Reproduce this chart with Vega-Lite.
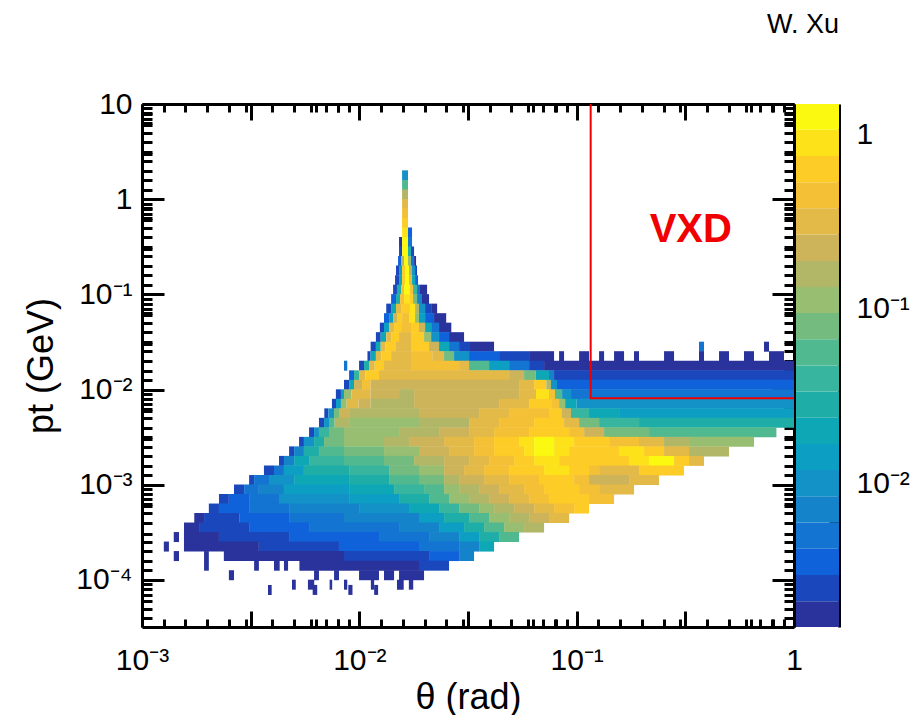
{"$schema":"https://vega.github.io/schema/vega-lite/v6.json","background":"white","padding":{"left":23,"top":11,"right":5,"bottom":0},"spacing":2,"bounds":"flush","config":{"view":{"stroke":null},"axis":{"grid":false,"labelFont":"Liberation Sans","titleFont":"Liberation Sans","labelFontSize":28,"titleFontSize":36,"titleFontWeight":"normal","labelColor":"black","titleColor":"black","domainColor":"black","tickColor":"black","domainWidth":3,"tickWidth":3,"labelOverlap":false,"labelBound":false,"labelFlush":false,"zindex":1}},
"hconcat":[{"width":652,"height":523,"layer":[
{"data":{"values":[
{"pt":1.78,"a":0.01573,"b":0.01675,"n":0.01},{"pt":1.41,"a":0.01573,"b":0.01675,"n":0.0562},{"pt":1.12,"a":0.01573,"b":0.01675,"n":0.158},{"pt":0.891,"a":0.01573,"b":0.01675,"n":0.316},{"pt":0.708,"a":0.01573,"b":0.01675,"n":0.447},{"pt":0.562,"a":0.01573,"b":0.01675,"n":0.631},
{"pt":0.447,"a":0.01573,"b":0.01675,"n":0.891},{"pt":0.447,"a":0.01675,"b":0.01748,"n":0.00355},
{"pt":0.355,"a":0.01523,"b":0.01573,"n":0.00178},{"pt":0.355,"a":0.01573,"b":0.01675,"n":1.26},{"pt":0.355,"a":0.01675,"b":0.01748,"n":0.00501},
{"pt":0.282,"a":0.01523,"b":0.01573,"n":0.00251},{"pt":0.282,"a":0.01573,"b":0.01675,"n":1.26},{"pt":0.282,"a":0.01675,"b":0.01729,"n":0.0282},{"pt":0.282,"a":0.01729,"b":0.01786,"n":0.00251},
{"pt":0.224,"a":0.01507,"b":0.01556,"n":0.00355},{"pt":0.224,"a":0.01556,"b":0.01606,"n":0.158},{"pt":0.224,"a":0.01606,"b":0.01675,"n":1.26},{"pt":0.224,"a":0.01675,"b":0.01729,"n":0.112},{"pt":0.224,"a":0.01729,"b":0.01786,"n":0.00501},{"pt":0.224,"a":0.01786,"b":0.01824,"n":0.00178},
{"pt":0.178,"a":0.01475,"b":0.01523,"n":0.00251},{"pt":0.178,"a":0.01523,"b":0.01573,"n":0.0141},{"pt":0.178,"a":0.01573,"b":0.01623,"n":0.631},{"pt":0.178,"a":0.01623,"b":0.01693,"n":1.26},{"pt":0.178,"a":0.01693,"b":0.01748,"n":0.158},{"pt":0.178,"a":0.01748,"b":0.01805,"n":0.01},{"pt":0.178,"a":0.01805,"b":0.01843,"n":0.00251},
{"pt":0.141,"a":0.0146,"b":0.01523,"n":0.00251},{"pt":0.141,"a":0.01523,"b":0.01573,"n":0.02},{"pt":0.141,"a":0.01573,"b":0.01623,"n":0.631},{"pt":0.141,"a":0.01623,"b":0.01693,"n":1.26},{"pt":0.141,"a":0.01693,"b":0.01748,"n":0.316},{"pt":0.141,"a":0.01748,"b":0.01805,"n":0.02},{"pt":0.141,"a":0.01805,"b":0.01863,"n":0.00355},
{"pt":0.112,"a":0.0143,"b":0.0149,"n":0.00251},{"pt":0.112,"a":0.0149,"b":0.01556,"n":0.0282},{"pt":0.112,"a":0.01556,"b":0.01606,"n":0.447},{"pt":0.112,"a":0.01606,"b":0.01711,"n":1.26},{"pt":0.112,"a":0.01711,"b":0.01767,"n":0.447},{"pt":0.112,"a":0.01767,"b":0.01843,"n":0.0398},{"pt":0.112,"a":0.01843,"b":0.01902,"n":0.00501},{"pt":0.112,"a":0.01902,"b":0.0205,"n":0.00178},
{"pt":0.0891,"a":0.014,"b":0.01475,"n":0.00355},{"pt":0.0891,"a":0.01475,"b":0.0154,"n":0.0282},{"pt":0.0891,"a":0.0154,"b":0.01606,"n":0.447},{"pt":0.0891,"a":0.01606,"b":0.01711,"n":0.891},{"pt":0.0891,"a":0.01711,"b":0.01767,"n":0.631},{"pt":0.0891,"a":0.01767,"b":0.01843,"n":0.0794},{"pt":0.0891,"a":0.01843,"b":0.01942,"n":0.00708},{"pt":0.0891,"a":0.01942,"b":0.02093,"n":0.00178},
{"pt":0.0708,"a":0.0133,"b":0.014,"n":0.00251},{"pt":0.0708,"a":0.014,"b":0.01475,"n":0.02},{"pt":0.0708,"a":0.01475,"b":0.01556,"n":0.316},{"pt":0.0708,"a":0.01556,"b":0.01711,"n":0.631},{"pt":0.0708,"a":0.01711,"b":0.01805,"n":0.891},{"pt":0.0708,"a":0.01805,"b":0.01882,"n":0.158},{"pt":0.0708,"a":0.01882,"b":0.02007,"n":0.01},{"pt":0.0708,"a":0.02007,"b":0.0214,"n":0.00251},{"pt":0.0708,"a":0.0214,"b":0.0228,"n":0.00178},
{"pt":0.0562,"a":0.01299,"b":0.0137,"n":0.00355},{"pt":0.0562,"a":0.0137,"b":0.0143,"n":0.0141},{"pt":0.0562,"a":0.0143,"b":0.0149,"n":0.224},{"pt":0.0562,"a":0.0149,"b":0.01573,"n":0.631},{"pt":0.0562,"a":0.01573,"b":0.01693,"n":0.447},{"pt":0.0562,"a":0.01693,"b":0.01805,"n":0.891},{"pt":0.0562,"a":0.01805,"b":0.01882,"n":0.112},{"pt":0.0562,"a":0.01882,"b":0.02007,"n":0.0141},{"pt":0.0562,"a":0.02007,"b":0.02207,"n":0.00355},{"pt":0.0562,"a":0.02207,"b":0.0251,"n":0.00178},
{"pt":0.0447,"a":0.01243,"b":0.01299,"n":0.00251},{"pt":0.0447,"a":0.01299,"b":0.0137,"n":0.0141},{"pt":0.0447,"a":0.0137,"b":0.01445,"n":0.316},{"pt":0.0447,"a":0.01445,"b":0.01556,"n":0.631},{"pt":0.0447,"a":0.01556,"b":0.01729,"n":0.447},{"pt":0.0447,"a":0.01729,"b":0.01882,"n":0.631},{"pt":0.0447,"a":0.01882,"b":0.02007,"n":0.224},{"pt":0.0447,"a":0.02007,"b":0.0214,"n":0.02},{"pt":0.0447,"a":0.0214,"b":0.02327,"n":0.00501},{"pt":0.0447,"a":0.02327,"b":0.0265,"n":0.00178},
{"pt":0.0355,"a":0.01192,"b":0.01254,"n":0.00251},{"pt":0.0355,"a":0.01254,"b":0.0133,"n":0.02},{"pt":0.0355,"a":0.0133,"b":0.014,"n":0.316},{"pt":0.0355,"a":0.014,"b":0.01523,"n":0.631},{"pt":0.0355,"a":0.01523,"b":0.01729,"n":0.316},{"pt":0.0355,"a":0.01729,"b":0.01985,"n":0.631},{"pt":0.0355,"a":0.01985,"b":0.0214,"n":0.112},{"pt":0.0355,"a":0.0214,"b":0.02327,"n":0.01},{"pt":0.0355,"a":0.02327,"b":0.02587,"n":0.00355},{"pt":0.0355,"a":0.02587,"b":0.03033,"n":0.00178},
{"pt":0.0282,"a":0.01127,"b":0.01192,"n":0.00251},{"pt":0.0282,"a":0.01192,"b":0.01254,"n":0.02},{"pt":0.0282,"a":0.01254,"b":0.0132,"n":0.316},{"pt":0.0282,"a":0.0132,"b":0.01475,"n":0.631},{"pt":0.0282,"a":0.01475,"b":0.01729,"n":0.316},{"pt":0.0282,"a":0.01729,"b":0.02093,"n":0.631},{"pt":0.0282,"a":0.02093,"b":0.02327,"n":0.224},{"pt":0.0282,"a":0.02327,"b":0.02587,"n":0.02},{"pt":0.0282,"a":0.02587,"b":0.02877,"n":0.00501},{"pt":0.0282,"a":0.02877,"b":0.03198,"n":0.00251},{"pt":0.0282,"a":0.03198,"b":0.04168,"n":0.00178},{"pt":0.0282,"a":0.3656,"b":0.3855,"n":0.00501},{"pt":0.0282,"a":0.7278,"b":0.7674,"n":0.00178},
{"pt":0.0224,"a":0.0109,"b":0.01127,"n":0.00251},{"pt":0.0224,"a":0.01127,"b":0.01192,"n":0.02},{"pt":0.0224,"a":0.01192,"b":0.01266,"n":0.316},{"pt":0.0224,"a":0.01266,"b":0.014,"n":0.631},{"pt":0.0224,"a":0.014,"b":0.01729,"n":0.316},{"pt":0.0224,"a":0.01729,"b":0.02164,"n":0.447},{"pt":0.0224,"a":0.02164,"b":0.02454,"n":0.316},{"pt":0.0224,"a":0.02454,"b":0.02728,"n":0.0794},{"pt":0.0224,"a":0.02728,"b":0.03198,"n":0.01},{"pt":0.0224,"a":0.03198,"b":0.04395,"n":0.00355},{"pt":0.0224,"a":0.04395,"b":0.0604,"n":0.00251},{"pt":0.0224,"a":0.0604,"b":0.0787,"n":0.00178},{"pt":0.0224,"a":0.083,"b":0.0875,"n":0.00178},{"pt":0.0224,"a":0.1026,"b":0.114,"n":0.00178},{"pt":0.0224,"a":0.1268,"b":0.1337,"n":0.00178},{"pt":0.0224,"a":0.1486,"b":0.1652,"n":0.00178},{"pt":0.0224,"a":0.1836,"b":0.1936,"n":0.00178},{"pt":0.0224,"a":0.2524,"b":0.2806,"n":0.00178},{"pt":0.0224,"a":0.3656,"b":0.3855,"n":0.00178},{"pt":0.0224,"a":0.4519,"b":0.5024,"n":0.00178},{"pt":0.0224,"a":0.5889,"b":0.6547,"n":0.00178},{"pt":0.0224,"a":0.7674,"b":0.8996,"n":0.00178},
{"pt":0.0178,"a":0.00997,"b":0.01051,"n":0.00251},{"pt":0.0178,"a":0.01051,"b":0.01108,"n":0.0282},{"pt":0.0178,"a":0.01108,"b":0.01178,"n":0.316},{"pt":0.0178,"a":0.01178,"b":0.01299,"n":0.631},{"pt":0.0178,"a":0.01299,"b":0.01729,"n":0.316},{"pt":0.0178,"a":0.01729,"b":0.02877,"n":0.447},{"pt":0.0178,"a":0.02877,"b":0.03198,"n":0.316},{"pt":0.0178,"a":0.03198,"b":0.03953,"n":0.0562},{"pt":0.0178,"a":0.03953,"b":0.04887,"n":0.0141},{"pt":0.0178,"a":0.04887,"b":0.0604,"n":0.00501},{"pt":0.0178,"a":0.0604,"b":0.0708,"n":0.00251},{"pt":0.0178,"a":0.0708,"b":1,"n":0.00178},{"pt":0.0178,"a":0.0085,"b":0.0088,"n":0.00501},
{"pt":0.0141,"a":0.00897,"b":0.00945,"n":0.00355},{"pt":0.0141,"a":0.00945,"b":0.00997,"n":0.0398},{"pt":0.0141,"a":0.00997,"b":0.01068,"n":0.316},{"pt":0.0141,"a":0.01068,"b":0.01232,"n":0.631},{"pt":0.0141,"a":0.01232,"b":0.04887,"n":0.316},{"pt":0.0141,"a":0.04887,"b":0.05728,"n":0.224},{"pt":0.0141,"a":0.05728,"b":0.0648,"n":0.0794},{"pt":0.0141,"a":0.0648,"b":0.0746,"n":0.02},{"pt":0.0141,"a":0.0746,"b":0.0787,"n":0.00708},{"pt":0.0141,"a":0.0787,"b":1,"n":0.00251},
{"pt":0.0112,"a":0.0085,"b":0.00897,"n":0.00251},{"pt":0.0112,"a":0.00897,"b":0.00945,"n":0.02},{"pt":0.0112,"a":0.00945,"b":0.01029,"n":0.224},{"pt":0.0112,"a":0.01029,"b":0.01127,"n":0.447},{"pt":0.0112,"a":0.01127,"b":0.05432,"n":0.224},{"pt":0.0112,"a":0.05432,"b":0.0637,"n":0.316},{"pt":0.0112,"a":0.0637,"b":0.0725,"n":0.631},{"pt":0.0112,"a":0.0725,"b":0.0762,"n":0.158},{"pt":0.0112,"a":0.0762,"b":0.0812,"n":0.01},{"pt":0.0112,"a":0.0812,"b":1,"n":0.00355},
{"pt":0.00891,"a":0.0078,"b":0.00823,"n":0.00251},{"pt":0.00891,"a":0.00823,"b":0.0085,"n":0.0141},{"pt":0.00891,"a":0.0085,"b":0.00918,"n":0.112},{"pt":0.00891,"a":0.00918,"b":0.01127,"n":0.316},{"pt":0.00891,"a":0.01127,"b":0.01523,"n":0.224},{"pt":0.00891,"a":0.01523,"b":0.01786,"n":0.158},{"pt":0.00891,"a":0.01786,"b":0.05432,"n":0.224},{"pt":0.00891,"a":0.05432,"b":0.0650,"n":0.316},{"pt":0.00891,"a":0.0650,"b":0.0746,"n":0.891},{"pt":0.00891,"a":0.0746,"b":0.0795,"n":0.447},{"pt":0.00891,"a":0.0795,"b":0.0857,"n":0.0562},{"pt":0.00891,"a":0.0857,"b":0.0942,"n":0.01},{"pt":0.00891,"a":0.0942,"b":1,"n":0.00501},
{"pt":0.00708,"a":0.00748,"b":0.00781,"n":0.00251},{"pt":0.00708,"a":0.00781,"b":0.00823,"n":0.0141},{"pt":0.00708,"a":0.00823,"b":0.00875,"n":0.112},{"pt":0.00708,"a":0.00875,"b":0.0099,"n":0.316},{"pt":0.00708,"a":0.0099,"b":0.01127,"n":0.224},{"pt":0.00708,"a":0.01127,"b":0.01786,"n":0.158},{"pt":0.00708,"a":0.01786,"b":0.04395,"n":0.224},{"pt":0.00708,"a":0.04395,"b":0.0604,"n":0.316},{"pt":0.00708,"a":0.0604,"b":0.0763,"n":0.631},{"pt":0.00708,"a":0.0763,"b":0.083,"n":0.447},{"pt":0.00708,"a":0.083,"b":0.0885,"n":0.112},{"pt":0.00708,"a":0.0885,"b":0.1,"n":0.02},{"pt":0.00708,"a":0.1,"b":1,"n":0.01},
{"pt":0.00562,"a":0.0069,"b":0.0072,"n":0.00251},{"pt":0.00562,"a":0.0072,"b":0.00765,"n":0.01},{"pt":0.00562,"a":0.00765,"b":0.00806,"n":0.0794},{"pt":0.00562,"a":0.00806,"b":0.00897,"n":0.224},{"pt":0.00562,"a":0.00897,"b":0.01882,"n":0.158},{"pt":0.00562,"a":0.01882,"b":0.03556,"n":0.224},{"pt":0.00562,"a":0.03556,"b":0.04887,"n":0.316},{"pt":0.00562,"a":0.04887,"b":0.0746,"n":0.447},{"pt":0.00562,"a":0.0746,"b":0.085,"n":0.631},{"pt":0.00562,"a":0.085,"b":0.0942,"n":0.224},{"pt":0.00562,"a":0.0942,"b":0.114,"n":0.0398},{"pt":0.00562,"a":0.114,"b":0.1567,"n":0.02},{"pt":0.00562,"a":0.1567,"b":1,"n":0.0141},
{"pt":0.00447,"a":0.00652,"b":0.00688,"n":0.00251},{"pt":0.00447,"a":0.00688,"b":0.00725,"n":0.01},{"pt":0.00447,"a":0.00725,"b":0.0077,"n":0.0562},{"pt":0.00447,"a":0.0077,"b":0.00897,"n":0.158},{"pt":0.00447,"a":0.00897,"b":0.01882,"n":0.112},{"pt":0.00447,"a":0.01882,"b":0.03198,"n":0.158},{"pt":0.00447,"a":0.03198,"b":0.04395,"n":0.316},{"pt":0.00447,"a":0.04395,"b":0.0637,"n":0.447},{"pt":0.00447,"a":0.0637,"b":0.0875,"n":0.631},{"pt":0.00447,"a":0.0875,"b":0.1026,"n":0.316},{"pt":0.00447,"a":0.1026,"b":0.1268,"n":0.0794},{"pt":0.00447,"a":0.1268,"b":0.1936,"n":0.0398},{"pt":0.00447,"a":0.1936,"b":1,"n":0.0282},
{"pt":0.00355,"a":0.00587,"b":0.00619,"n":0.00251},{"pt":0.00355,"a":0.00619,"b":0.00652,"n":0.01},{"pt":0.00355,"a":0.00652,"b":0.00725,"n":0.0398},{"pt":0.00355,"a":0.00725,"b":0.0085,"n":0.0794},{"pt":0.00355,"a":0.0085,"b":0.01523,"n":0.112},{"pt":0.00355,"a":0.01523,"b":0.02327,"n":0.158},{"pt":0.00355,"a":0.02327,"b":0.03198,"n":0.224},{"pt":0.00355,"a":0.03198,"b":0.04168,"n":0.316},{"pt":0.00355,"a":0.04168,"b":0.0604,"n":0.447},{"pt":0.00355,"a":0.0604,"b":0.0923,"n":0.631},{"pt":0.00355,"a":0.0923,"b":0.1082,"n":0.447},{"pt":0.00355,"a":0.1082,"b":0.1337,"n":0.224},{"pt":0.00355,"a":0.1337,"b":0.2153,"n":0.0794},{"pt":0.00355,"a":0.2153,"b":0.83,"n":0.0562},
{"pt":0.00282,"a":0.00528,"b":0.00556,"n":0.00251},{"pt":0.00282,"a":0.00556,"b":0.00619,"n":0.01},{"pt":0.00282,"a":0.00619,"b":0.00688,"n":0.0282},{"pt":0.00282,"a":0.00688,"b":0.0085,"n":0.0794},{"pt":0.00282,"a":0.0085,"b":0.01299,"n":0.112},{"pt":0.00282,"a":0.01299,"b":0.01693,"n":0.158},{"pt":0.00282,"a":0.01693,"b":0.02454,"n":0.224},{"pt":0.00282,"a":0.02454,"b":0.03372,"n":0.316},{"pt":0.00282,"a":0.03372,"b":0.04168,"n":0.447},{"pt":0.00282,"a":0.04168,"b":0.05432,"n":0.631},{"pt":0.00282,"a":0.05432,"b":0.0637,"n":0.891},{"pt":0.00282,"a":0.0637,"b":0.0787,"n":1.26},{"pt":0.00282,"a":0.0787,"b":0.0973,"n":0.891},{"pt":0.00282,"a":0.0973,"b":0.141,"n":0.631},{"pt":0.00282,"a":0.141,"b":0.1936,"n":0.447},{"pt":0.00282,"a":0.1936,"b":0.2524,"n":0.316},{"pt":0.00282,"a":0.2524,"b":0.3289,"n":0.158},{"pt":0.00282,"a":0.3289,"b":0.6547,"n":0.112},
{"pt":0.00224,"a":0.00475,"b":0.00501,"n":0.00251},{"pt":0.00224,"a":0.00501,"b":0.00556,"n":0.00708},{"pt":0.00224,"a":0.00556,"b":0.00652,"n":0.0282},{"pt":0.00224,"a":0.00652,"b":0.0085,"n":0.0562},{"pt":0.00224,"a":0.0085,"b":0.01299,"n":0.0794},{"pt":0.00224,"a":0.01299,"b":0.01882,"n":0.112},{"pt":0.00224,"a":0.01882,"b":0.02587,"n":0.224},{"pt":0.00224,"a":0.02587,"b":0.03372,"n":0.316},{"pt":0.00224,"a":0.03372,"b":0.04168,"n":0.447},{"pt":0.00224,"a":0.04168,"b":0.05728,"n":0.631},{"pt":0.00224,"a":0.05728,"b":0.0637,"n":0.891},{"pt":0.00224,"a":0.0637,"b":0.0787,"n":1.26},{"pt":0.00224,"a":0.0787,"b":0.0923,"n":0.891},{"pt":0.00224,"a":0.0923,"b":0.1567,"n":0.631},{"pt":0.00224,"a":0.1567,"b":0.2042,"n":0.891},{"pt":0.00224,"a":0.2042,"b":0.2524,"n":0.631},{"pt":0.00224,"a":0.2524,"b":0.3289,"n":0.316},{"pt":0.00224,"a":0.3289,"b":0.5024,"n":0.158},
{"pt":0.00178,"a":0.00427,"b":0.0045,"n":0.00251},{"pt":0.00178,"a":0.0045,"b":0.00501,"n":0.00708},{"pt":0.00178,"a":0.00501,"b":0.00587,"n":0.02},{"pt":0.00178,"a":0.00587,"b":0.0085,"n":0.0398},{"pt":0.00178,"a":0.0085,"b":0.01299,"n":0.0562},{"pt":0.00178,"a":0.01299,"b":0.01786,"n":0.0794},{"pt":0.00178,"a":0.01786,"b":0.02454,"n":0.158},{"pt":0.00178,"a":0.02454,"b":0.03198,"n":0.224},{"pt":0.00178,"a":0.03198,"b":0.03953,"n":0.316},{"pt":0.00178,"a":0.03953,"b":0.05152,"n":0.447},{"pt":0.00178,"a":0.05152,"b":0.0637,"n":0.631},{"pt":0.00178,"a":0.0637,"b":0.083,"n":0.891},{"pt":0.00178,"a":0.083,"b":0.1742,"n":0.631},{"pt":0.00178,"a":0.1742,"b":0.2153,"n":0.891},{"pt":0.00178,"a":0.2153,"b":0.2806,"n":1.26},{"pt":0.00178,"a":0.2806,"b":0.3289,"n":0.631},{"pt":0.00178,"a":0.3289,"b":0.3855,"n":0.316},
{"pt":0.00141,"a":0.00364,"b":0.00405,"n":0.00251},{"pt":0.00141,"a":0.00405,"b":0.0045,"n":0.00501},{"pt":0.00141,"a":0.0045,"b":0.00556,"n":0.0141},{"pt":0.00141,"a":0.00556,"b":0.00897,"n":0.0282},{"pt":0.00141,"a":0.00897,"b":0.0137,"n":0.0398},{"pt":0.00141,"a":0.0137,"b":0.01882,"n":0.0794},{"pt":0.00141,"a":0.01882,"b":0.02454,"n":0.112},{"pt":0.00141,"a":0.02454,"b":0.03033,"n":0.224},{"pt":0.00141,"a":0.03033,"b":0.03749,"n":0.316},{"pt":0.00141,"a":0.03749,"b":0.04887,"n":0.447},{"pt":0.00141,"a":0.04887,"b":0.0708,"n":0.631},{"pt":0.00141,"a":0.0708,"b":0.0923,"n":0.891},{"pt":0.00141,"a":0.0923,"b":0.114,"n":0.631},{"pt":0.00141,"a":0.114,"b":0.1268,"n":0.447},{"pt":0.00141,"a":0.1268,"b":0.1936,"n":0.316},{"pt":0.00141,"a":0.1936,"b":0.3119,"n":0.631},
{"pt":0.00112,"a":0.00311,"b":0.00328,"n":0.00251},{"pt":0.00112,"a":0.00328,"b":0.00384,"n":0.00501},{"pt":0.00112,"a":0.00384,"b":0.00501,"n":0.01},{"pt":0.00112,"a":0.00501,"b":0.00897,"n":0.02},{"pt":0.00112,"a":0.00897,"b":0.0137,"n":0.0282},{"pt":0.00112,"a":0.0137,"b":0.01882,"n":0.0562},{"pt":0.00112,"a":0.01882,"b":0.02454,"n":0.0794},{"pt":0.00112,"a":0.02454,"b":0.02877,"n":0.158},{"pt":0.00112,"a":0.02877,"b":0.03749,"n":0.224},{"pt":0.00112,"a":0.03749,"b":0.04887,"n":0.316},{"pt":0.00112,"a":0.04887,"b":0.0671,"n":0.447},{"pt":0.00112,"a":0.0671,"b":0.0973,"n":0.631},{"pt":0.00112,"a":0.0973,"b":0.114,"n":0.447},{"pt":0.00112,"a":0.114,"b":0.1742,"n":0.224},{"pt":0.00112,"a":0.1742,"b":0.2393,"n":0.316},
{"pt":8.91e-4,"a":0.00265,"b":0.00295,"n":0.00251},{"pt":8.91e-4,"a":0.00295,"b":0.00345,"n":0.00501},{"pt":8.91e-4,"a":0.00345,"b":0.0045,"n":0.00708},{"pt":8.91e-4,"a":0.0045,"b":0.00897,"n":0.0141},{"pt":8.91e-4,"a":0.00897,"b":0.01445,"n":0.02},{"pt":8.91e-4,"a":0.01445,"b":0.01985,"n":0.0398},{"pt":8.91e-4,"a":0.01985,"b":0.02454,"n":0.0562},{"pt":8.91e-4,"a":0.02454,"b":0.02877,"n":0.112},{"pt":8.91e-4,"a":0.02877,"b":0.03556,"n":0.158},{"pt":8.91e-4,"a":0.03556,"b":0.04395,"n":0.224},{"pt":8.91e-4,"a":0.04395,"b":0.05728,"n":0.316},{"pt":8.91e-4,"a":0.05728,"b":0.0708,"n":0.447},{"pt":8.91e-4,"a":0.0708,"b":0.1026,"n":0.631},{"pt":8.91e-4,"a":0.1026,"b":0.1268,"n":0.447},{"pt":8.91e-4,"a":0.1268,"b":0.1837,"n":0.316},
{"pt":7.08e-4,"a":0.00226,"b":0.00251,"n":0.00251},{"pt":7.08e-4,"a":0.00251,"b":0.00311,"n":0.00355},{"pt":7.08e-4,"a":0.00311,"b":0.00427,"n":0.00501},{"pt":7.08e-4,"a":0.00427,"b":0.00897,"n":0.01},{"pt":7.08e-4,"a":0.00897,"b":0.01523,"n":0.0141},{"pt":7.08e-4,"a":0.01523,"b":0.02093,"n":0.0282},{"pt":7.08e-4,"a":0.02093,"b":0.02587,"n":0.0562},{"pt":7.08e-4,"a":0.02587,"b":0.03198,"n":0.112},{"pt":7.08e-4,"a":0.03198,"b":0.03953,"n":0.158},{"pt":7.08e-4,"a":0.03953,"b":0.04887,"n":0.224},{"pt":7.08e-4,"a":0.04887,"b":0.0604,"n":0.316},{"pt":7.08e-4,"a":0.0604,"b":0.0746,"n":0.447},{"pt":7.08e-4,"a":0.0746,"b":0.114,"n":0.631},{"pt":7.08e-4,"a":0.114,"b":0.1486,"n":0.447},
{"pt":5.62e-4,"a":0.00203,"b":0.00226,"n":0.00251},{"pt":5.62e-4,"a":0.00226,"b":0.00311,"n":0.00355},{"pt":5.62e-4,"a":0.00311,"b":0.00475,"n":0.00501},{"pt":5.62e-4,"a":0.00475,"b":0.00997,"n":0.00708},{"pt":5.62e-4,"a":0.00997,"b":0.01693,"n":0.01},{"pt":5.62e-4,"a":0.01693,"b":0.02327,"n":0.02},{"pt":5.62e-4,"a":0.02327,"b":0.02877,"n":0.0398},{"pt":5.62e-4,"a":0.02877,"b":0.03556,"n":0.0794},{"pt":5.62e-4,"a":0.03556,"b":0.04168,"n":0.112},{"pt":5.62e-4,"a":0.04168,"b":0.05152,"n":0.158},{"pt":5.62e-4,"a":0.05152,"b":0.0637,"n":0.224},{"pt":5.62e-4,"a":0.0637,"b":0.0787,"n":0.316},{"pt":5.62e-4,"a":0.0787,"b":0.0973,"n":0.447},{"pt":5.62e-4,"a":0.0973,"b":0.114,"n":0.631},
{"pt":4.47e-4,"a":0.00174,"b":0.00193,"n":0.00178},{"pt":4.47e-4,"a":0.00193,"b":0.0028,"n":0.00251},{"pt":4.47e-4,"a":0.0028,"b":0.00475,"n":0.00355},{"pt":4.47e-4,"a":0.00475,"b":0.0085,"n":0.00501},{"pt":4.47e-4,"a":0.0085,"b":0.01882,"n":0.00708},{"pt":4.47e-4,"a":0.01882,"b":0.02454,"n":0.0141},{"pt":4.47e-4,"a":0.02454,"b":0.03198,"n":0.0282},{"pt":4.47e-4,"a":0.03198,"b":0.03953,"n":0.0562},{"pt":4.47e-4,"a":0.03953,"b":0.04887,"n":0.112},{"pt":4.47e-4,"a":0.04887,"b":0.0604,"n":0.158},{"pt":4.47e-4,"a":0.0604,"b":0.0746,"n":0.224},{"pt":4.47e-4,"a":0.0746,"b":0.0923,"n":0.316},
{"pt":3.55e-4,"a":0.00156,"b":0.00183,"n":0.00178},{"pt":3.55e-4,"a":0.00183,"b":0.00311,"n":0.00251},{"pt":3.55e-4,"a":0.00311,"b":0.00587,"n":0.00355},{"pt":3.55e-4,"a":0.00587,"b":0.01523,"n":0.00501},{"pt":3.55e-4,"a":0.01523,"b":0.02327,"n":0.00708},{"pt":3.55e-4,"a":0.02327,"b":0.03033,"n":0.0141},{"pt":3.55e-4,"a":0.03033,"b":0.03749,"n":0.0282},{"pt":3.55e-4,"a":0.03749,"b":0.04634,"n":0.0562},{"pt":3.55e-4,"a":0.04634,"b":0.05728,"n":0.112},{"pt":3.55e-4,"a":0.05728,"b":0.0708,"n":0.158},
{"pt":2.82e-4,"a":0.0014,"b":0.00148,"n":0.00178},{"pt":2.82e-4,"a":0.00156,"b":0.00226,"n":0.00178},{"pt":2.82e-4,"a":0.00226,"b":0.00475,"n":0.00251},{"pt":2.82e-4,"a":0.00475,"b":0.01232,"n":0.00355},{"pt":2.82e-4,"a":0.01232,"b":0.02093,"n":0.00501},{"pt":2.82e-4,"a":0.02093,"b":0.02877,"n":0.00708},{"pt":2.82e-4,"a":0.02877,"b":0.03556,"n":0.0141},{"pt":2.82e-4,"a":0.03556,"b":0.04395,"n":0.0282},{"pt":2.82e-4,"a":0.04395,"b":0.05432,"n":0.0562},
{"pt":2.24e-4,"a":0.00126,"b":0.00133,"n":0.00178},{"pt":2.24e-4,"a":0.00156,"b":0.00345,"n":0.00178},{"pt":2.24e-4,"a":0.00345,"b":0.00806,"n":0.00251},{"pt":2.24e-4,"a":0.00806,"b":0.01882,"n":0.00355},{"pt":2.24e-4,"a":0.01882,"b":0.02877,"n":0.00501},{"pt":2.24e-4,"a":0.02877,"b":0.03556,"n":0.00708},{"pt":2.24e-4,"a":0.03556,"b":0.04168,"n":0.02},
{"pt":1.78e-4,"a":0.0014,"b":0.00148,"n":0.00178},{"pt":1.78e-4,"a":0.00193,"b":0.00203,"n":0.00178},{"pt":1.78e-4,"a":0.00238,"b":0.0085,"n":0.00178},{"pt":1.78e-4,"a":0.0085,"b":0.02093,"n":0.00251},{"pt":1.78e-4,"a":0.02093,"b":0.02877,"n":0.00355},{"pt":1.78e-4,"a":0.02877,"b":0.03372,"n":0.00708},
{"pt":1.41e-4,"a":0.00193,"b":0.00203,"n":0.00178},{"pt":1.41e-4,"a":0.00328,"b":0.00345,"n":0.00178},{"pt":1.41e-4,"a":0.00405,"b":0.0043,"n":0.00178},{"pt":1.41e-4,"a":0.0045,"b":0.0047,"n":0.00178},{"pt":1.41e-4,"a":0.0053,"b":0.01882,"n":0.00178},{"pt":1.41e-4,"a":0.01882,"b":0.02587,"n":0.00251},
{"pt":1.12e-4,"a":0.00251,"b":0.00265,"n":0.00178},{"pt":1.12e-4,"a":0.00619,"b":0.00652,"n":0.00178},{"pt":1.12e-4,"a":0.00765,"b":0.00806,"n":0.00178},{"pt":1.12e-4,"a":0.00997,"b":0.01232,"n":0.00178},{"pt":1.12e-4,"a":0.01299,"b":0.01445,"n":0.00178},{"pt":1.12e-4,"a":0.01523,"b":0.01985,"n":0.00178},
{"pt":8.91e-5,"a":0.0049,"b":0.0051,"n":0.00178},{"pt":8.91e-5,"a":0.0058,"b":0.0062,"n":0.00178},{"pt":8.91e-5,"a":0.0073,"b":0.0075,"n":0.00178},{"pt":8.91e-5,"a":0.0085,"b":0.0088,"n":0.00178},{"pt":8.91e-5,"a":0.0113,"b":0.0117,"n":0.00178},{"pt":8.91e-5,"a":0.0149,"b":0.016,"n":0.00178},{"pt":8.91e-5,"a":0.0169,"b":0.0177,"n":0.00178},
{"pt":7.85e-5,"a":0.0038,"b":0.00395,"n":0.00178},{"pt":7.85e-5,"a":0.0061,"b":0.0064,"n":0.00178},{"pt":7.85e-5,"a":0.0089,"b":0.0093,"n":0.00178},{"pt":7.85e-5,"a":0.0117,"b":0.0122,"n":0.00178}
]},
"mark":{"type":"rect","height":10,"clip":true},
"encoding":{
"x":{"field":"a","type":"quantitative","title":"θ (rad)","scale":{"type":"log","domain":[0.001,1],"nice":false,"zero":false},"axis":{"orient":"bottom","titlePadding":-3,"labelPadding":34,"labelFontSize":30,"values":[0.001,0.00126,0.00158,0.002,0.00251,0.003,0.00316,0.00398,0.00501,0.006,0.00631,0.007,0.00794,0.008,0.009,0.01,0.0126,0.0158,0.02,0.0251,0.03,0.0316,0.0398,0.0501,0.06,0.0631,0.07,0.0794,0.08,0.09,0.1,0.126,0.158,0.2,0.251,0.3,0.316,0.398,0.501,0.6,0.631,0.7,0.794,0.8,0.9,1],"labelExpr":"datum.value==0.001?'10⁻³':datum.value==0.01?'10⁻²':datum.value==0.1?'10⁻¹':datum.value==1?'1':''","tickSize":{"condition":{"test":"abs(2*log(datum.value)/LN10-round(2*log(datum.value)/LN10))<0.005","value":-16},"value":-8}}},
"x2":{"field":"b"},
"y":{"field":"pt","type":"quantitative","title":"pt (GeV)","scale":{"type":"log","domain":[3.2e-5,10],"nice":false,"zero":false},"axis":{"orient":"left","titlePadding":15,"labelPadding":32,"labelFontSize":30,"values":[0.00004,0.00005,0.00006,0.00007,0.00008,0.00009,0.0001,0.000126,0.000158,0.0002,0.000251,0.0003,0.000398,0.000501,0.0006,0.000631,0.0007,0.000794,0.0008,0.0009,0.001,0.00126,0.00158,0.002,0.00251,0.003,0.00316,0.00398,0.00501,0.006,0.00631,0.007,0.00794,0.008,0.009,0.01,0.0126,0.0158,0.02,0.0251,0.03,0.0316,0.0398,0.0501,0.06,0.0631,0.07,0.0794,0.08,0.09,0.1,0.126,0.158,0.2,0.251,0.3,0.316,0.398,0.501,0.6,0.631,0.7,0.794,0.8,0.9,1,1.26,1.58,2,2.51,3,3.16,3.98,5.01,6,6.31,7,7.94,8,9,10],"labelExpr":"datum.value==0.0001?'10⁻⁴':datum.value==0.001?'10⁻³':datum.value==0.01?'10⁻²':datum.value==0.1?'10⁻¹':datum.value==1?'1':datum.value==10?'10':''","tickSize":{"condition":{"test":"abs(log(datum.value)/LN10-round(log(datum.value)/LN10))<0.002","value":-22},"value":-10}}},
"color":{"field":"n","type":"quantitative","legend":null,"scale":{"type":"threshold","domain":[0.00211,0.00298,0.00421,0.00596,0.00841,0.0119,0.0168,0.0237,0.0335,0.0473,0.0668,0.0944,0.133,0.188,0.266,0.376,0.531,0.75,1.06],"range":["#2A339B","#1A47BC","#1062DA","#1375D1","#1483CA","#1292C6","#0C9FC3","#0DA7B6","#1FADA8","#38B59E","#50B990","#73BB7E","#98BE72","#B1B766","#CDB45A","#E3B948","#F4C036","#FDCC26","#FDE21A","#FBF910"]}}
}},
{"data":{"values":[{"t":0.116,"p":10,"o":1},{"t":0.116,"p":0.0081,"o":2},{"t":1,"p":0.0081,"o":3}]},
"mark":{"type":"line","color":"#f00000","strokeWidth":2,"clip":true},
"encoding":{
"x":{"field":"t","type":"quantitative","title":null,"scale":{"type":"log","domain":[0.001,1],"nice":false,"zero":false},"axis":{"orient":"top","labels":false,"values":[0.001,0.00126,0.00158,0.002,0.00251,0.003,0.00316,0.00398,0.00501,0.006,0.00631,0.007,0.00794,0.008,0.009,0.01,0.0126,0.0158,0.02,0.0251,0.03,0.0316,0.0398,0.0501,0.06,0.0631,0.07,0.0794,0.08,0.09,0.1,0.126,0.158,0.2,0.251,0.3,0.316,0.398,0.501,0.6,0.631,0.7,0.794,0.8,0.9,1],"tickSize":{"condition":{"test":"abs(2*log(datum.value)/LN10-round(2*log(datum.value)/LN10))<0.005","value":-16},"value":-8}}},
"y":{"field":"p","type":"quantitative","title":null,"scale":{"type":"log","domain":[3.2e-5,10],"nice":false,"zero":false},"axis":{"orient":"right","labels":false,"values":[0.00004,0.00005,0.00006,0.00007,0.00008,0.00009,0.0001,0.000126,0.000158,0.0002,0.000251,0.0003,0.000398,0.000501,0.0006,0.000631,0.0007,0.000794,0.0008,0.0009,0.001,0.00126,0.00158,0.002,0.00251,0.003,0.00316,0.00398,0.00501,0.006,0.00631,0.007,0.00794,0.008,0.009,0.01,0.0126,0.0158,0.02,0.0251,0.03,0.0316,0.0398,0.0501,0.06,0.0631,0.07,0.0794,0.08,0.09,0.1,0.126,0.158,0.2,0.251,0.3,0.316,0.398,0.501,0.6,0.631,0.7,0.794,0.8,0.9,1,1.26,1.58,2,2.51,3,3.16,3.98,5.01,6,6.31,7,7.94,8,9,10],"tickSize":{"condition":{"test":"abs(log(datum.value)/LN10-round(log(datum.value)/LN10))<0.002","value":-22},"value":-10}}},
"order":{"field":"o","type":"quantitative"}
}},
{"data":{"values":[{"t":0.335,"p":0.475,"s":"VXD"}]},
"mark":{"type":"text","color":"#f00000","font":"Liberation Sans","fontWeight":"bold","fontSize":40,"baseline":"middle","align":"center"},
"encoding":{"x":{"field":"t","type":"quantitative","scale":{"type":"log","domain":[0.001,1],"nice":false,"zero":false},"axis":null},"y":{"field":"p","type":"quantitative","scale":{"type":"log","domain":[3.2e-5,10],"nice":false,"zero":false},"axis":null},"text":{"field":"s"}}}
],"resolve":{"axis":{"x":"independent","y":"independent"}}},
{"width":43,"height":523,"title":{"text":"W. Xu","anchor":"end","frame":"group","offset":65,"font":"Liberation Sans","fontSize":27,"fontWeight":"normal","color":"black"},
"data":{"values":[{"lo":0.0015,"hi":0.00211,"n":0.00178},{"lo":0.00211,"hi":0.00298,"n":0.00251},{"lo":0.00298,"hi":0.00421,"n":0.00355},{"lo":0.00421,"hi":0.00596,"n":0.00501},{"lo":0.00596,"hi":0.00841,"n":0.00708},{"lo":0.00841,"hi":0.0119,"n":0.01},{"lo":0.0119,"hi":0.0168,"n":0.0141},{"lo":0.0168,"hi":0.0237,"n":0.02},{"lo":0.0237,"hi":0.0335,"n":0.0282},{"lo":0.0335,"hi":0.0473,"n":0.0398},{"lo":0.0473,"hi":0.0668,"n":0.0562},{"lo":0.0668,"hi":0.0944,"n":0.0794},{"lo":0.0944,"hi":0.133,"n":0.112},{"lo":0.133,"hi":0.188,"n":0.158},{"lo":0.188,"hi":0.266,"n":0.224},{"lo":0.266,"hi":0.376,"n":0.316},{"lo":0.376,"hi":0.531,"n":0.447},{"lo":0.531,"hi":0.75,"n":0.631},{"lo":0.75,"hi":1.06,"n":0.891},{"lo":1.06,"hi":1.49,"n":1.26}]},
"mark":{"type":"rect"},
"encoding":{
"y":{"field":"lo","type":"quantitative","title":null,"scale":{"type":"log","domain":[0.0015,1.49],"nice":false,"zero":false},"axis":{"orient":"right","labelPadding":37,"labelFontSize":30,"values":[0.002,0.003,0.004,0.005,0.006,0.007,0.008,0.009,0.01,0.02,0.03,0.04,0.05,0.06,0.07,0.08,0.09,0.1,0.2,0.3,0.4,0.5,0.6,0.7,0.8,0.9,1],"labelExpr":"datum.value==0.01?'10⁻²':datum.value==0.1?'10⁻¹':datum.value==1?'1':''","tickSize":{"condition":{"test":"abs(log(datum.value)/LN10-round(log(datum.value)/LN10))<0.002","value":-20},"value":-10}}},
"y2":{"field":"hi"},
"color":{"field":"n","type":"quantitative","legend":null,"scale":{"type":"threshold","domain":[0.00211,0.00298,0.00421,0.00596,0.00841,0.0119,0.0168,0.0237,0.0335,0.0473,0.0668,0.0944,0.133,0.188,0.266,0.376,0.531,0.75,1.06],"range":["#2A339B","#1A47BC","#1062DA","#1375D1","#1483CA","#1292C6","#0C9FC3","#0DA7B6","#1FADA8","#38B59E","#50B990","#73BB7E","#98BE72","#B1B766","#CDB45A","#E3B948","#F4C036","#FDCC26","#FDE21A","#FBF910"]}}
}}
]}
